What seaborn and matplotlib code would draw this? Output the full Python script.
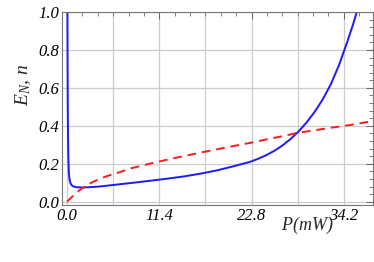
import matplotlib
matplotlib.use("Agg")
import matplotlib.pyplot as plt
import seaborn as sns
import pandas as pd
from matplotlib.ticker import MultipleLocator, FixedLocator

sns.set_theme(style="white")
plt.rcParams['font.family'] = ['Liberation Serif', 'DejaVu Serif']
plt.rcParams['font.style'] = 'italic'
plt.rcParams['mathtext.fontset'] = 'custom'
plt.rcParams['mathtext.it'] = 'Liberation Serif:italic'
plt.rcParams['mathtext.rm'] = 'Liberation Serif:italic'

# Entanglement E_N (blue solid)
p_blue = [0.05, 0.07, 0.09, 0.12, 0.16, 0.22, 0.3, 0.4, 0.55, 0.8, 1.2, 2.0, 3.0, 4.0,
          6.1, 8.0, 10.2, 12.3, 14.4, 16.5, 18.5, 20.5, 22.6, 23.6, 24.6, 25.6, 26.6,
          27.6, 28.6, 29.6, 30.6, 31.6, 32.6, 33.6, 34.6, 35.3, 35.8]
e_blue = [1.0, 0.72, 0.52, 0.36, 0.24, 0.16, 0.12, 0.10, 0.088, 0.08, 0.076, 0.075, 0.077, 0.080,
          0.090, 0.099, 0.11, 0.121, 0.133, 0.148, 0.165, 0.186, 0.21, 0.226, 0.245, 0.268,
          0.296, 0.33, 0.37, 0.418, 0.474, 0.54, 0.62, 0.72, 0.84, 0.93, 1.0]

# Efficiency n (red dashed)
p_red = [0.0, 0.5, 1.0, 1.5, 2.0, 3.0, 4.0, 5.0, 6.1, 8.0, 10.2, 12.3, 14.4, 16.5, 18.5, 20.5,
         22.6, 24.6, 26.7, 28.35, 30.8, 32.8, 34.9, 37.8]
n_red = [0.0, 0.021, 0.041, 0.059, 0.075, 0.100, 0.120, 0.136, 0.150, 0.177, 0.200, 0.221, 0.240,
         0.259, 0.276, 0.293, 0.310, 0.328, 0.346, 0.362, 0.378, 0.391, 0.404, 0.425]

xticks = [0.0, 11.4, 22.8, 34.2]
yticks = [0.0, 0.2, 0.4, 0.6, 0.8, 1.0]
xgrid = [0.0, 5.7, 11.4, 17.1, 22.8, 28.5, 34.2]

df_b = pd.DataFrame({"P": p_blue, "v": e_blue})
df_r = pd.DataFrame({"P": p_red, "v": n_red})

fig = plt.figure(figsize=(3.74, 2.62), dpi=100)
ax = fig.add_axes([62/374, 1-205/262, (373-62)/374, (205-12)/262])

sns.lineplot(data=df_b, x="P", y="v", ax=ax, color="#1a1aff", lw=1.4,
             estimator=None, sort=False)
sns.lineplot(data=df_r, x="P", y="v", ax=ax, color="#ff1a1a", lw=1.4,
             estimator=None, sort=False, dashes=False, linestyle=(0, (4.5, 3)))

ax.set_xlim(-0.62, 37.8)
ax.set_ylim(-0.0174, 1.0)

ax.xaxis.set_major_locator(FixedLocator(xticks))
ax.yaxis.set_major_locator(FixedLocator(yticks))
ax.xaxis.set_minor_locator(MultipleLocator(1.9))
ax.yaxis.set_minor_locator(MultipleLocator(0.04))
ax.set_xticklabels([f"{v:.1f}" for v in xticks], fontsize=12, style="italic",
                   family="Liberation Serif")
ax.set_yticklabels([f"{v:.1f}" for v in yticks], fontsize=12, style="italic",
                   family="Liberation Serif")

for gx in xgrid:
    ax.axvline(gx, color="#cccccc", lw=0.9, zorder=0)
for gy in yticks:
    ax.axhline(gy, color="#cccccc", lw=0.9, zorder=0)

ax.tick_params(axis="both", which="major", direction="in", length=5, width=0.7,
               color="#666666", top=True, right=True, pad=2, labelcolor="black")
ax.tick_params(axis="both", which="minor", direction="in", length=3, width=0.6,
               color="#666666", top=True, right=True)
for s in ax.spines.values():
    s.set_color("#777777")
    s.set_linewidth(0.8)

ax.set_xlabel("")
ax.set_ylabel("")
fig.text(307/374, 1-225/262, "$P(mW)$", ha="center", va="center", fontsize=13)
fig.text(23/374, 1-85/262, "$E_N$, $n$", ha="center", va="center", fontsize=14,
         rotation=90)

fig.savefig("out.png", dpi=100)
